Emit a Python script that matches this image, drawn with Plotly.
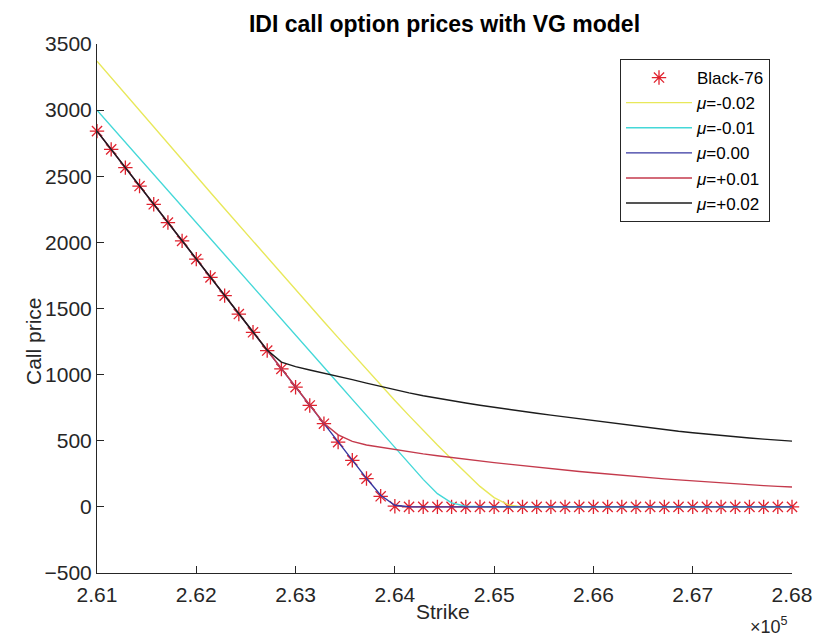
import plotly.graph_objects as go

# Strikes (x 1e5): 50 strikes from 2.61e5 to 2.68e5
strikes = [261000 + i * 7000 / 49 for i in range(50)]

black76 = [2841, 2703, 2565, 2426, 2288, 2150, 2011, 1873, 1735, 1597,
           1458, 1320, 1182, 1043, 905, 767, 629, 490, 352, 214,
           80, 5, 0, 0, 0, 0, 0, 0, 0, 0,
           0, 0, 0, 0, 0, 0, 0, 0, 0, 0,
           0, 0, 0, 0, 0, 0, 0, 0, 0, 0]

mu_m002 = [3370, 3245, 3120, 2996, 2872, 2748, 2624, 2500, 2377, 2254,
           2131, 2008, 1886, 1764, 1642, 1521, 1400, 1280, 1160, 1041,
           922, 805, 690, 577, 467, 362, 258, 155, 70, 15,
           0, 0, 0, 0, 0, 0, 0, 0, 0, 0,
           0, 0, 0, 0, 0, 0, 0, 0, 0, 0]

mu_m001 = [3000, 2879, 2757, 2636, 2514, 2393, 2271, 2150, 2028, 1907,
           1785, 1664, 1542, 1421, 1299, 1178, 1056, 935, 813, 692,
           570, 449, 327, 208, 100, 30, 5, 0, 0, 0,
           0, 0, 0, 0, 0, 0, 0, 0, 0, 0,
           0, 0, 0, 0, 0, 0, 0, 0, 0, 0]

mu_000 = [2841, 2703, 2565, 2426, 2288, 2150, 2011, 1873, 1735, 1597,
          1458, 1320, 1182, 1043, 905, 767, 629, 490, 352, 216,
          88, 12, 1, 0, 0, 0, 0, 0, 0, 0,
          0, 0, 0, 0, 0, 0, 0, 0, 0, 0,
          0, 0, 0, 0, 0, 0, 0, 0, 0, 0]

mu_p001 = [2841, 2703, 2565, 2426, 2288, 2150, 2011, 1873, 1735, 1597,
           1458, 1320, 1182, 1043, 905, 767, 632, 545, 495, 468,
           450, 432, 416, 401, 387, 373, 360, 347, 335, 323,
           311, 300, 289, 278, 268, 258, 248, 239, 230, 221,
           212, 204, 196, 188, 181, 174, 167, 161, 155, 150]

mu_p002 = [2841, 2703, 2565, 2426, 2288, 2150, 2011, 1873, 1735, 1597,
           1458, 1320, 1185, 1095, 1060, 1035, 1012, 988, 962, 936,
           910, 885, 862, 840, 820, 802, 785, 768, 752, 737,
           722, 708, 694, 680, 666, 652, 638, 624, 610, 597,
           584, 572, 561, 550, 540, 530, 521, 512, 504, 497]

series = [
    ("<i>μ</i>=-0.02", mu_m002, "#e8e85a"),
    ("<i>μ</i>=-0.01", mu_m001, "#44d8d8"),
    ("<i>μ</i>=0.00", mu_000, "#3636a0"),
    ("<i>μ</i>=+0.01", mu_p001, "#c43a4c"),
    ("<i>μ</i>=+0.02", mu_p002, "#1c1c1c"),
]

x_tickvals = [261000, 262000, 263000, 264000, 265000, 266000, 267000, 268000]
x_ticktext = ["2.61", "2.62", "2.63", "2.64", "2.65", "2.66", "2.67", "2.68"]
y_tickvals = [-500, 0, 500, 1000, 1500, 2000, 2500, 3000, 3500]

W, H = 813, 637
L, R, T, B = 97, 21, 44, 64
pw, ph = W - L - R, H - T - B

fig = go.Figure()
fig.add_trace(go.Scatter(
    x=strikes, y=black76, mode="markers", name="Black-76",
    marker=dict(symbol="asterisk-open", size=12, color="#e0222e",
                line=dict(color="#e0222e", width=1.3)),
    cliponaxis=False))
for k, (name, vals, col) in enumerate(series):
    fig.add_trace(go.Scatter(
        x=strikes, y=vals, mode="lines", name=name,
        line=dict(color=col, width=1.4)))

axis_col = "#262626"
fig.update_layout(
    width=W, height=H,
    margin=dict(l=L, r=R, t=T, b=B, autoexpand=False),
    paper_bgcolor="white", plot_bgcolor="white",
    font=dict(family="Liberation Sans, Arial, sans-serif", color=axis_col, size=21),
    title=dict(text="<b>IDI call option prices with VG model</b>",
               x=(L + pw / 2) / W, xanchor="center", y=1 - 24 / H, yanchor="middle",
               font=dict(size=23, color="black")),
    showlegend=True,
    legend=dict(x=(770 - L) / pw, xanchor="right", y=(H - B - 59) / ph, yanchor="top",
                bgcolor="white", bordercolor=axis_col, borderwidth=1,
                font=dict(size=17, color="black"), itemwidth=66,
                traceorder="normal"),
    xaxis=dict(range=[261000, 268000], tickvals=x_tickvals, ticktext=x_ticktext,
               showgrid=False, zeroline=False, showline=True, linecolor=axis_col,
               linewidth=1, ticks="inside", ticklen=7, tickcolor=axis_col,
               ticklabelstandoff=3, automargin=False),
    yaxis=dict(range=[-500, 3500], tickvals=y_tickvals,
               showgrid=False, zeroline=False, showline=True, linecolor=axis_col,
               linewidth=1, ticks="inside", ticklen=7, tickcolor=axis_col,
               automargin=False),
)
# Axis titles and exponent label
fig.add_annotation(text="Strike", xref="paper", yref="paper",
                   x=(443 - L) / pw, xanchor="center", y=(H - B - 611) / ph, yanchor="middle",
                   showarrow=False, font=dict(size=21, color=axis_col))
fig.add_annotation(text="Call price", xref="paper", yref="paper", textangle=-90,
                   x=(33 - L) / pw, xanchor="center", y=(H - B - 341) / ph, yanchor="middle",
                   showarrow=False, font=dict(size=21, color=axis_col))
fig.add_annotation(text="×10<sup>5</sup>", xref="paper", yref="paper",
                   x=(790 - L) / pw, xanchor="right", y=(H - B - 639) / ph, yanchor="bottom",
                   showarrow=False, font=dict(size=18, color=axis_col))

fig.write_html("out.html")
